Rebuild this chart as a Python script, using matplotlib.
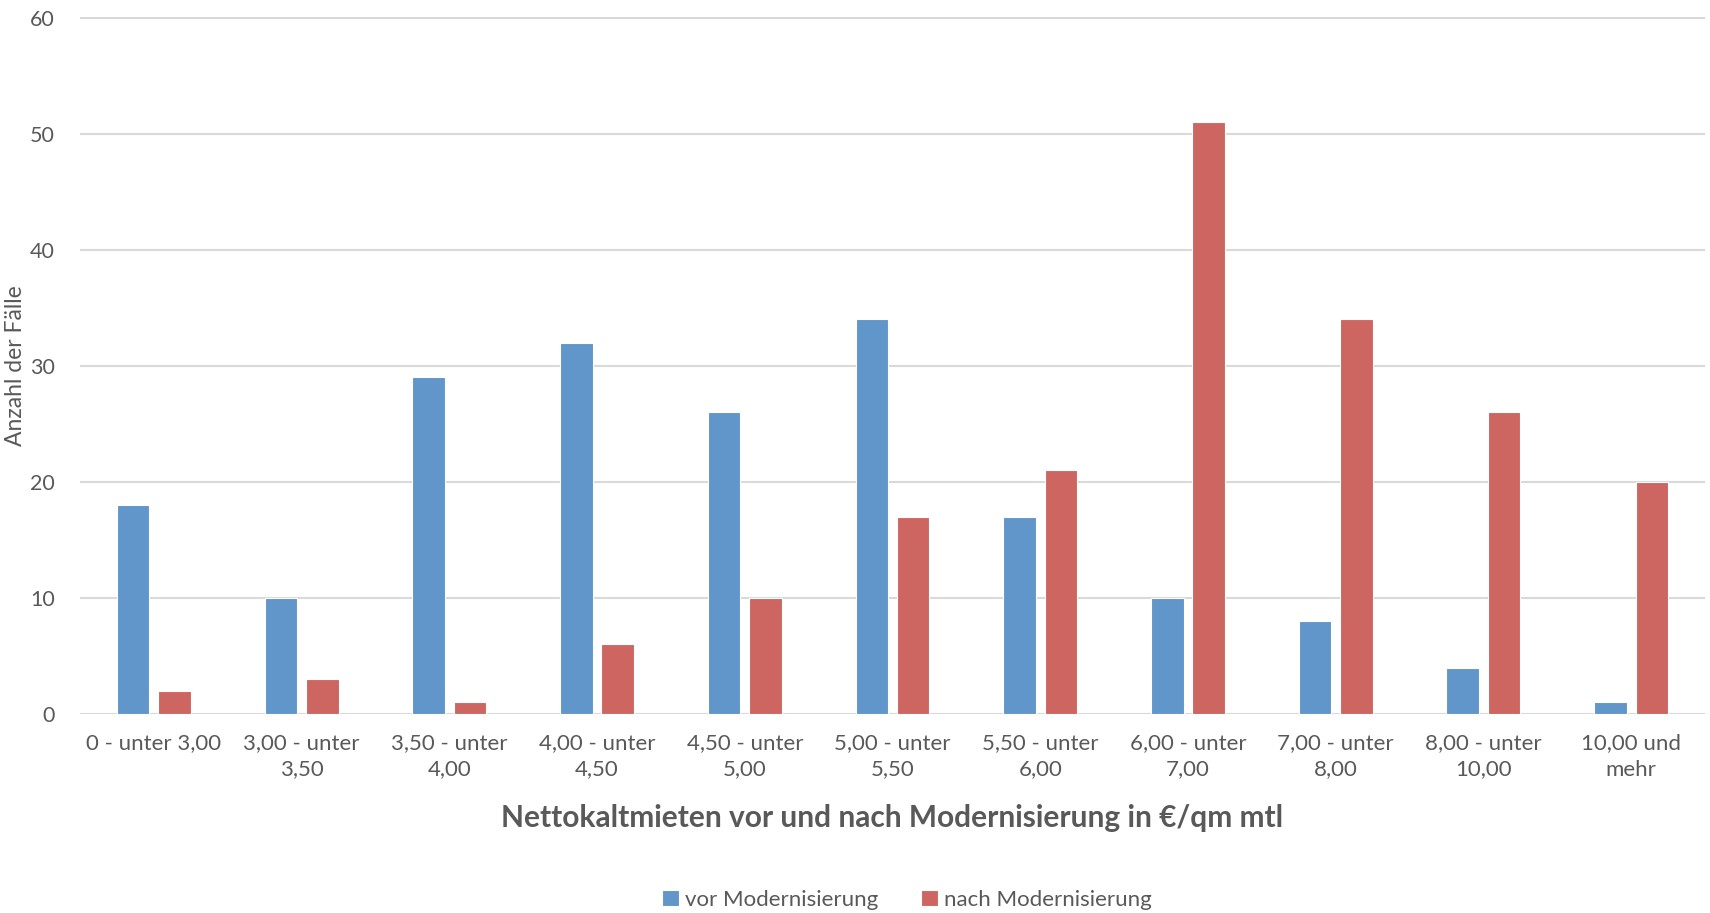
import matplotlib
matplotlib.use("Agg")
import matplotlib.pyplot as plt
import numpy as np

categories = [
    "0 - unter 3,00", "3,00 - unter\n3,50", "3,50 - unter\n4,00", "4,00 - unter\n4,50",
    "4,50 - unter\n5,00", "5,00 - unter\n5,50", "5,50 - unter\n6,00", "6,00 - unter\n7,00",
    "7,00 - unter\n8,00", "8,00 - unter\n10,00", "10,00 und\nmehr",
]
vor_modernisierung = [18, 10, 29, 32, 26, 34, 17, 10, 8, 4, 1]
nach_modernisierung = [2, 3, 1, 6, 10, 17, 21, 51, 34, 26, 20]
y_ticks = [0, 10, 20, 30, 40, 50, 60]

BLUE = "#6096C9"
RED = "#CD6660"
TEXT = "#595959"
GRID = "#D9D9D9"

plt.rcParams["font.family"] = ["Lato", "DejaVu Sans"]

fig = plt.figure(figsize=(17.1, 9.13), dpi=100)
ax = fig.add_axes([80 / 1710, 1 - 714 / 913, 1625 / 1710, (714 - 17.5) / 913])

x = np.arange(len(categories))
w = 0.22
off = 0.14
ax.bar(x - off, vor_modernisierung, width=w, color=BLUE, edgecolor="white",
       linewidth=0.8, label="vor Modernisierung", zorder=3)
ax.bar(x + off, nach_modernisierung, width=w, color=RED, edgecolor="white",
       linewidth=0.8, label="nach Modernisierung", zorder=3)

ax.set_xlim(-0.5, len(categories) - 0.5)
ax.set_ylim(0, 60)
ax.set_yticks(y_ticks)
ax.set_xticks(x)
ax.set_xticklabels(categories, fontsize=16, color=TEXT, linespacing=1.38)
ax.tick_params(axis="y", labelsize=15.5, labelcolor=TEXT, length=0, pad=18)
ax.tick_params(axis="x", length=0, pad=14)

ax.grid(axis="y", color=GRID, linewidth=1.5, zorder=0)
ax.set_axisbelow(True)
for s in ax.spines.values():
    s.set_visible(False)

fig.text(16 / 1710, 1 - 366 / 913, "Anzahl der Fälle", rotation=90,
         ha="center", va="center", fontsize=16.5, color=TEXT)
fig.text(892 / 1710, 1 - 818 / 913, "Nettokaltmieten vor und nach Modernisierung in €/qm mtl",
         ha="center", va="center", fontsize=21.5, fontweight="bold", color=TEXT)

fig.legend(loc="center", bbox_to_anchor=(907 / 1710, 1 - 900 / 913), ncol=2,
           frameon=False, fontsize=16, labelcolor=TEXT, handlelength=0.75,
           handleheight=0.75, handletextpad=0.3, columnspacing=1.9)

fig.savefig("out.png", dpi=100, facecolor="white")
